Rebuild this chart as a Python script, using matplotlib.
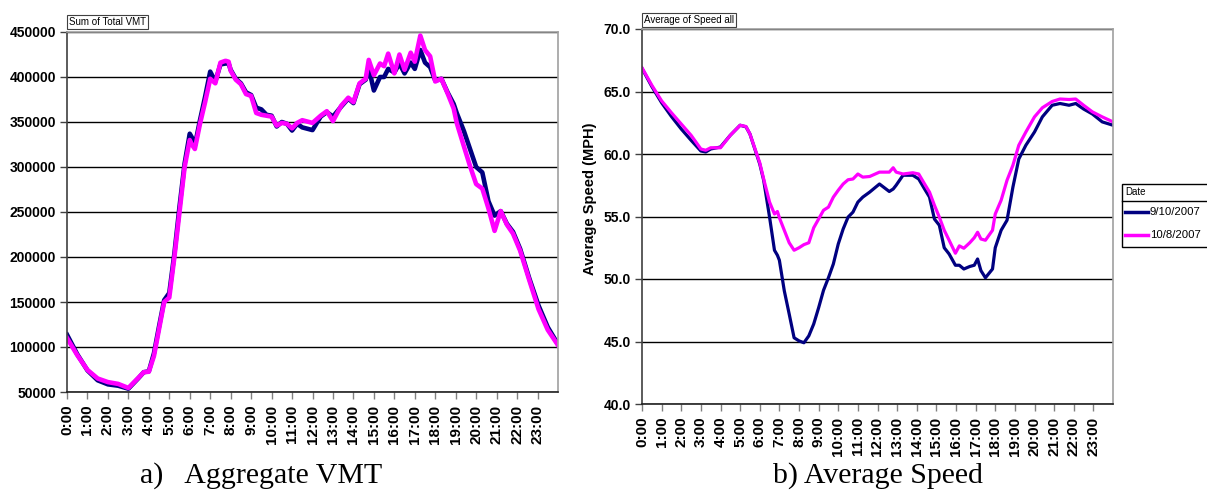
import matplotlib
matplotlib.use("Agg")
import matplotlib.pyplot as plt
from matplotlib.lines import Line2D
from matplotlib.patches import Rectangle

W, H = 1207, 497
SANS = "Liberation Sans"
SERIF = "Liberation Serif"
BLUE = "#000080"
PINK = "#FF00FF"

dates = ["9/10/2007", "10/8/2007"]
hour_labels = [f"{h}:00" for h in range(24)]

# ---- a) Aggregate VMT (hour of day, vehicle miles)
vmt_hours = [0, 0.5, 1, 1.5, 2, 2.5, 3, 3.5, 3.75, 4, 4.25, 4.5, 4.75, 5, 5.25,
             5.5, 5.75, 6, 6.1, 6.25, 6.5, 6.75, 7, 7.25, 7.5, 7.75, 7.9, 8,
             8.25, 8.5, 8.75, 9, 9.25, 9.5, 9.75, 10, 10.25, 10.5, 10.75, 11,
             11.25, 11.5, 12, 12.4, 12.7, 13, 13.4, 13.75, 14, 14.3, 14.6,
             14.75, 15, 15.3, 15.5, 15.7, 16, 16.25, 16.5, 16.8, 17, 17.27,
             17.5, 17.75, 18, 18.3, 18.6, 18.9, 19.05, 19.4, 19.7, 20, 20.3,
             20.6, 20.9, 21.2, 21.5, 21.8, 22.15, 22.6, 23.05, 23.5, 24]
vmt_sep = [113700, 92000, 74000, 63000, 58500, 57000, 53700, 65600, 72000,
           73000, 93000, 123000, 152000, 160000, 204000, 256000, 304000,
           337000, 333000, 324000, 352000, 378000, 406000, 395000, 414000,
           415000, 415000, 408000, 398000, 393000, 383000, 380000, 366000,
           364000, 358000, 357000, 345000, 350000, 348000, 340500, 348000,
           344000, 341000, 356000, 361000, 356000, 367000, 376000, 371000,
           392000, 397000, 410000, 385000, 400000, 400000, 409000, 405000,
           415000, 404000, 416000, 409000, 430000, 416000, 411000, 396000,
           398000, 383000, 370000, 360000, 340000, 320000, 300000, 294000,
           262000, 246000, 251000, 237000, 228000, 209000, 176000, 146000,
           122000, 103000]
vmt_oct = [110000, 91000, 74500, 65000, 61000, 59000, 54500, 66000, 72000,
           72500, 90000, 120000, 150000, 155000, 200000, 250000, 300000,
           330000, 325000, 320000, 348000, 372000, 398000, 393000, 416000,
           418000, 417000, 407000, 397000, 392000, 381000, 379000, 360000,
           358000, 357000, 356000, 346000, 349000, 348000, 343000, 349000,
           352000, 349000, 357000, 362000, 351000, 368000, 377000, 372000,
           393000, 398000, 419000, 402000, 415000, 412000, 426000, 404000,
           425000, 408000, 427000, 417000, 446000, 430000, 423000, 395000,
           398000, 382000, 365000, 349000, 323000, 301000, 281000, 276000,
           254000, 229000, 251000, 236000, 226000, 207000, 174000, 142000,
           119000, 102000]

# ---- b) Average speed (MPH)
spd_hours = [0, 0.5, 1, 1.5, 2, 2.5, 3, 3.25, 3.5, 4, 4.5, 5, 5.3, 5.5, 6,
             6.2, 6.5, 6.75, 6.9, 7, 7.25, 7.5, 7.75, 8, 8.25, 8.5, 8.75, 9,
             9.25, 9.5, 9.75, 10, 10.25, 10.5, 10.75, 11, 11.25, 11.6, 12.1,
             12.6, 12.8, 12.95, 13.3, 13.8, 14.1, 14.4, 14.65, 14.9, 15.15,
             15.4, 15.65, 15.97, 16.17, 16.4, 16.7, 16.93, 17.1, 17.27, 17.5,
             17.86, 18, 18.3, 18.6, 18.9, 19.2, 19.56, 20, 20.4, 20.9, 21.3,
             21.76, 22.1, 22.5, 22.95, 23.45, 24]
spd_sep = [66.85, 65.4, 64.1, 63.0, 62.0, 61.1, 60.24, 60.16, 60.4, 60.56,
           61.5, 62.3, 62.17, 61.6, 59.2, 57.9, 54.95, 52.3, 51.9, 51.5,
           49.06, 47.2, 45.3, 45.05, 44.9, 45.45, 46.4, 47.7, 49.1, 50.1,
           51.2, 52.8, 54.0, 54.95, 55.35, 56.15, 56.55, 56.95, 57.6, 57.0,
           57.2, 57.5, 58.3, 58.3, 58.0, 57.2, 56.55, 54.8, 54.3, 52.5,
           52.0, 51.1, 51.1, 50.8, 51.0, 51.1, 51.6, 50.67, 50.1, 50.8,
           52.5, 53.9, 54.7, 57.35, 59.6, 60.7, 61.76, 62.97, 63.9, 64.04,
           63.9, 64.04, 63.6, 63.2, 62.57, 62.3]
spd_oct = [66.9, 65.5, 64.25, 63.3, 62.4, 61.5, 60.4, 60.3, 60.5, 60.5,
           61.5, 62.3, 62.2, 61.6, 59.3, 58.0, 56.15, 55.2, 55.4, 54.9,
           53.9, 52.9, 52.3, 52.5, 52.75, 52.9, 54.1, 54.8, 55.5, 55.75,
           56.55, 57.1, 57.6, 57.94, 58.0, 58.4, 58.15, 58.2, 58.55, 58.55,
           58.9, 58.55, 58.4, 58.5, 58.4, 57.6, 56.95, 55.9, 54.95, 53.9,
           53.1, 52.06, 52.65, 52.46, 52.9, 53.3, 53.74, 53.2, 53.1, 53.9,
           55.2, 56.3, 57.9, 59.1, 60.7, 61.76, 62.97, 63.7, 64.2, 64.4,
           64.36, 64.4, 63.9, 63.37, 62.97, 62.57]


def fx(x):
    return x / W


def fy(y):
    return 1 - y / H


def _style(ax, yticks, ylabels):
    ax.set_xlim(0, 24)
    ax.set_xticks(range(24))
    ax.set_xticklabels(hour_labels, rotation=90, fontsize=11,
                       fontweight="bold", family=SANS)
    ax.set_yticks(yticks)
    ax.set_yticklabels(ylabels, fontsize=10, fontweight="bold", family=SANS)
    ax.tick_params(axis="x", length=5, width=1, color="#808080", pad=4)
    ax.tick_params(axis="y", length=5, width=1, color="#404040", pad=3)
    ax.yaxis.grid(True, color="black", lw=1)
    ax.set_axisbelow(True)
    for s in ("top", "right"):
        ax.spines[s].set_color("#A0A0A0")
    ax.spines["left"].set_color("#404040")
    ax.spines["bottom"].set_color("#202020")
    for s in ax.spines.values():
        s.set_linewidth(1.2)


fig = plt.figure(figsize=(W / 100, H / 100), dpi=100)

# left panel
ax1 = fig.add_axes([fx(67), fy(392), fx(558 - 67), (392 - 32) / H])
ax1.plot(vmt_hours, vmt_sep, color=BLUE, lw=3.3, solid_joinstyle="round")
ax1.plot(vmt_hours, vmt_oct, color=PINK, lw=3.3, solid_joinstyle="round")
ax1.set_ylim(50000, 450000)
vt = list(range(50000, 450001, 50000))
_style(ax1, vt, [str(v) for v in vt])

# right panel
ax2 = fig.add_axes([fx(642), fy(404), fx(1113 - 642), (404 - 29) / H])
ax2.plot(spd_hours, spd_sep, color=BLUE, lw=2.3, solid_joinstyle="round")
ax2.plot(spd_hours, spd_oct, color=PINK, lw=2.3, solid_joinstyle="round")
ax2.set_ylim(40, 70)
st = [40, 45, 50, 55, 60, 65, 70]
_style(ax2, st, [f"{v:.1f}" for v in st])
fig.text(fx(590), fy(199), "Average Speed (MPH)",
         rotation=90, ha="center", va="center", fontsize=10.5,
         fontweight="bold", family=SANS)

# small field buttons
box = dict(boxstyle="square,pad=0.25", fc="white", ec="#404040", lw=0.8)
fig.text(fx(69), fy(22), "Sum of Total VMT", fontsize=7, family=SANS,
         ha="left", va="center", bbox=box)
fig.text(fx(644), fy(20), "Average of Speed all", fontsize=7, family=SANS,
         ha="left", va="center", bbox=box)

# legend (box runs to the right edge, as in the original)
fig.patches.append(Rectangle((fx(1122), fy(247)), fx(100), (247 - 184) / H,
                             transform=fig.transFigure, fc="white",
                             ec="black", lw=1))
fig.lines.append(Line2D([fx(1122), fx(1207)], [fy(201), fy(201)],
                        transform=fig.transFigure, color="black", lw=1))
fig.text(fx(1125), fy(192.5), "Date", fontsize=7, family=SANS,
         ha="left", va="center")
for yy, col, lab in zip([212, 235], [BLUE, PINK], dates):
    fig.lines.append(Line2D([fx(1125), fx(1148)], [fy(yy), fy(yy)],
                            transform=fig.transFigure, color=col, lw=2.5))
    fig.text(fx(1150), fy(yy), lab, fontsize=8.2, family=SANS,
             ha="left", va="center")

# captions
fig.text(fx(140), fy(476), "a)   Aggregate VMT", fontsize=21.5, family=SERIF,
         ha="left", va="center")
fig.text(fx(878), fy(476), "b) Average Speed", fontsize=21.5, family=SERIF,
         ha="center", va="center")

fig.savefig("out.png", dpi=100)
